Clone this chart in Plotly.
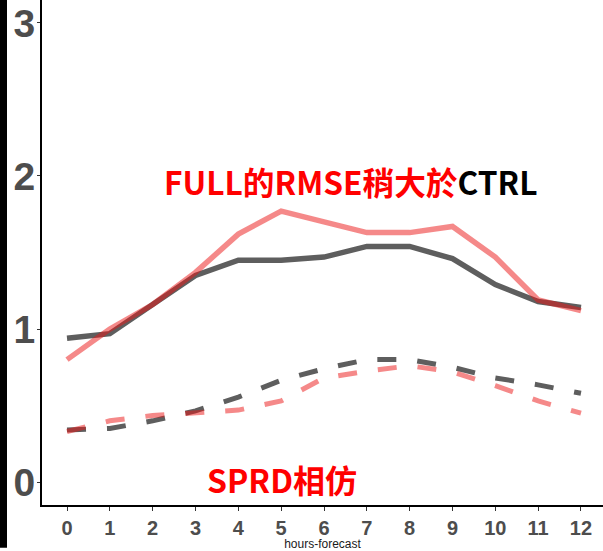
import plotly.graph_objects as go

# forecast lead time (hours)
hours = list(range(13))

# RMSE (solid) and ensemble spread (dashed) for the two experiments
ctrl_rmse = [0.94, 0.97, 1.16, 1.35, 1.45, 1.45, 1.47, 1.54, 1.54, 1.46, 1.29, 1.18, 1.14]
full_rmse = [0.80, 1.00, 1.16, 1.37, 1.62, 1.77, 1.70, 1.63, 1.63, 1.67, 1.47, 1.19, 1.12]
ctrl_sprd = [0.34, 0.35, 0.40, 0.465, 0.555, 0.665, 0.74, 0.80, 0.80, 0.75, 0.68, 0.635, 0.58]
full_sprd = [0.33, 0.40, 0.435, 0.455, 0.47, 0.53, 0.68, 0.725, 0.76, 0.72, 0.63, 0.53, 0.45]

x_ticks = [str(h) for h in hours]
y_ticks = [0, 1, 2, 3]

GRAY = "#5e5e5e"
PINK = "rgba(235,20,20,0.5)"
DASH = "19px,21px"

fig = go.Figure()
fig.add_trace(go.Scatter(x=hours, y=ctrl_rmse, mode="lines",
                         line=dict(color=GRAY, width=5.5)))
fig.add_trace(go.Scatter(x=hours, y=ctrl_sprd, mode="lines",
                         line=dict(color=GRAY, width=5, dash=DASH)))
fig.add_trace(go.Scatter(x=hours, y=full_rmse, mode="lines",
                         line=dict(color=PINK, width=5.5)))
fig.add_trace(go.Scatter(x=hours, y=full_sprd, mode="lines",
                         line=dict(color=PINK, width=5, dash=DASH)))

cjk = "Noto Sans CJK TC"
fig.add_annotation(
    x=6.63, y=1.97, xref="x", yref="y", showarrow=False,
    text='<b><span style="color:#ff0000">FULL的RMSE稍大於</span>'
         '<span style="color:#000000">CTRL</span></b>',
    font=dict(family=cjk, size=31.7),
)
fig.add_annotation(
    x=5.03, y=0.02, xref="x", yref="y", showarrow=False,
    text="<b>SPRD相仿</b>",
    font=dict(family=cjk, size=32, color="#ff0000"),
)

# dark strip along the left edge
fig.add_shape(type="rect", xref="paper", yref="paper",
              x0=-42 / 561, x1=-35 / 561, y0=-43 / 508, y1=1,
              fillcolor="#000000", line=dict(width=0), layer="above")

fig.update_layout(
    width=603, height=551,
    margin=dict(l=42, r=0, t=0, b=43),
    plot_bgcolor="white", paper_bgcolor="white",
    showlegend=False,
    xaxis=dict(
        range=[-0.584, 12.514], tickmode="array", tickvals=hours, ticktext=x_ticks,
        showgrid=False, zeroline=False, showline=True, linecolor="black", linewidth=2,
        ticks="outside", ticklen=4, tickcolor="#333333", tickwidth=1,
        tickfont=dict(family="Liberation Sans", size=20, color="#4d4d4d", weight="bold"),
        title=dict(text="hours-forecast", standoff=4,
                   font=dict(family="Liberation Sans", size=12, color="#1a1a1a")),
    ),
    yaxis=dict(
        range=[-0.15, 3.15], tickmode="array", tickvals=y_ticks,
        showgrid=False, zeroline=False, showline=True, linecolor="black", linewidth=2,
        ticks="outside", ticklen=3, tickcolor="#333333", tickwidth=1,
        ticklabelstandoff=-6,
        tickfont=dict(family="Liberation Sans", size=39, color="#4d4d4d", weight="bold"),
    ),
)

fig.write_html("out.html")
